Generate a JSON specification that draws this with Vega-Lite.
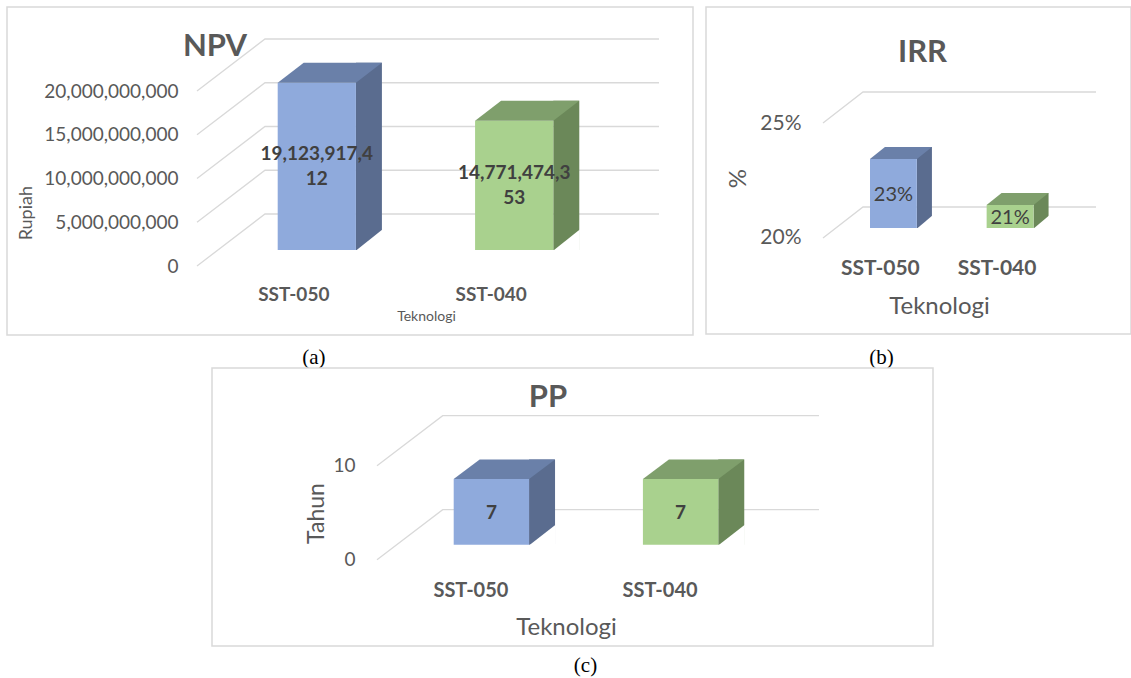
{
  "$schema": "https://vega.github.io/schema/vega-lite/v6.json",
  "padding": {"left": 6, "top": 6, "right": 0, "bottom": 0},
  "background": "white",
  "config": {"font": "Lato", "axis": {"labelColor": "#595959", "titleColor": "#595959"}},
  "spacing": -14,
  "vconcat": [
    {
      "hconcat": [
        {
          "width": 686, "height": 328,
          "view": {"stroke": "#d9d9d9", "strokeWidth": 1.5, "fill": "white"},
          "title": {"text": "NPV", "anchor": "middle", "frame": "group", "dx": -135, "offset": -80, "baseline": "alphabetic", "font": "Lato", "fontSize": 31, "fontWeight": "bold", "color": "#595959"},
          "data": {"values": [{"Teknologi": "SST-050", "NPV": 19123917412}, {"Teknologi": "SST-040", "NPV": 14771474353}]},
          "resolve": {"scale": {"y": "independent"}, "axis": {"x": "independent", "y": "independent"}},
          "layer": [
            {
              "data": {"values": [{"Rupiah": 0}, {"Rupiah": 5000000000}, {"Rupiah": 10000000000}, {"Rupiah": 15000000000}, {"Rupiah": 20000000000}]},
              "mark": {"type": "point", "shape": "M -153 16 L -85 -36 L 309 -36", "size": 4, "filled": false, "stroke": "#d9d9d9", "strokeWidth": 1.3, "opacity": 1},
              "encoding": {
                "y": {"field": "Rupiah", "type": "quantitative", "scale": {"domain": [-9714285714, 27771428571], "zero": false, "nice": false},
                  "axis": {"orient": "left", "offset": -171, "values": [0, 5000000000, 10000000000, 15000000000, 20000000000], "format": ",.0f", "labelOffset": 16, "labelPadding": 0, "ticks": false, "tickSize": 0, "domain": false, "grid": false, "labelFont": "Lato", "labelFontSize": 19, "labelLimit": 300, "title": "Rupiah", "titleFont": "Lato", "titleFontWeight": "normal", "titleFontSize": 18, "titleX": -152, "titleY": 205.7, "titleAngle": -90, "titleAlign": "center", "titleBaseline": "middle"}}
              }
            },
            {
              "mark": {"type": "bar", "width": 26, "xOffset": 52.1, "yOffset": -20},
              "encoding": {
                "x": {"field": "Teknologi", "type": "nominal", "scale": {"domain": ["SST-050", "SST-040"], "range": [270.7, 546.3], "paddingInner": 0.6037, "paddingOuter": 0}, "axis": null},
                "y": {"field": "NPV", "type": "quantitative", "scale": {"domain": [-9714285714, 27771428571], "zero": false, "nice": false}, "axis": null},
                "y2": {"datum": 0},
                "fill": {"condition": {"test": "datum.Teknologi === 'SST-050'", "value": "#5A6C8F"}, "value": "#6B8859"}
              }
            },
            {
              "mark": {"type": "bar"},
              "encoding": {
                "x": {"field": "Teknologi", "type": "nominal", "scale": {"domain": ["SST-050", "SST-040"], "range": [270.7, 546.3], "paddingInner": 0.6037, "paddingOuter": 0},
                  "axis": {"orient": "bottom", "offset": -41, "labelOffset": -23, "labelBaseline": "middle", "labelPadding": 0, "ticks": false, "tickSize": 0, "domain": false, "grid": false, "labelAngle": 0, "labelFont": "Lato", "labelFontWeight": "bold", "labelFontSize": 19, "title": "Teknologi", "titleFont": "Lato", "titleFontWeight": "normal", "titleFontSize": 14, "titleX": 419, "titleY": 22, "titleAlign": "center", "titleBaseline": "middle"}},
                "y": {"field": "NPV", "type": "quantitative", "scale": {"domain": [-9714285714, 27771428571], "zero": false, "nice": false}, "axis": null},
                "y2": {"datum": 0},
                "fill": {"condition": {"test": "datum.Teknologi === 'SST-050'", "value": "#8FAADC"}, "value": "#A9D18E"}
              }
            },
            {
              "mark": {"type": "point", "shape": "M -39.1 0 L 39.1 0 L 65.1 -20 L -13.1 -20 Z", "size": 4, "filled": true, "opacity": 1, "strokeWidth": 0},
              "encoding": {
                "x": {"field": "Teknologi", "type": "nominal", "scale": {"domain": ["SST-050", "SST-040"], "range": [270.7, 546.3], "paddingInner": 0.6037, "paddingOuter": 0}, "axis": null},
                "y": {"field": "NPV", "type": "quantitative", "scale": {"domain": [-9714285714, 27771428571], "zero": false, "nice": false}, "axis": null},
                "fill": {"condition": {"test": "datum.Teknologi === 'SST-050'", "value": "#6A80A9"}, "value": "#7F9F6C"}
              }
            },
            {
              "mark": {"type": "point", "shape": "M 38.6 1 L 65.6 1 L 65.6 -20.5 Z", "size": 4, "filled": true, "opacity": 1, "strokeWidth": 0, "fill": "white"},
              "encoding": {
                "x": {"field": "Teknologi", "type": "nominal", "scale": {"domain": ["SST-050", "SST-040"], "range": [270.7, 546.3], "paddingInner": 0.6037, "paddingOuter": 0}, "axis": null},
                "y": {"datum": 0, "type": "quantitative", "scale": {"domain": [-9714285714, 27771428571], "zero": false, "nice": false}, "axis": null}
              }
            },
            {
              "mark": {"type": "text", "limit": 117, "ellipsis": "\u200b", "dy": -12, "baseline": "middle", "align": "center", "font": "Lato", "fontWeight": "bold", "fontSize": 19, "color": "#404040"},
              "encoding": {
                "x": {"field": "Teknologi", "type": "nominal", "scale": {"domain": ["SST-050", "SST-040"], "range": [270.7, 546.3], "paddingInner": 0.6037, "paddingOuter": 0},
                  "axis": {"orient": "bottom", "offset": 0, "labels": false, "ticks": false, "domain": false, "grid": false, "title": "(a)", "titleFont": "Liberation Serif", "titleFontWeight": "normal", "titleFontSize": 21, "titleColor": "#000000", "titleX": 306.4, "titleY": 22, "titleAlign": "center", "titleBaseline": "middle"}},
                "y": {"field": "NPV", "type": "quantitative", "scale": {"domain": [-19428571429, 55542857143], "zero": false, "nice": false}, "axis": null},
                "text": {"field": "NPV", "type": "quantitative", "format": ","}
              }
            },
            {
              "mark": {"type": "text", "limit": 27, "dir": "rtl", "ellipsis": "\u200b", "dy": 13, "baseline": "middle", "align": "center", "font": "Lato", "fontWeight": "bold", "fontSize": 19, "color": "#404040"},
              "encoding": {
                "x": {"field": "Teknologi", "type": "nominal", "scale": {"domain": ["SST-050", "SST-040"], "range": [270.7, 546.3], "paddingInner": 0.6037, "paddingOuter": 0}, "axis": null},
                "y": {"field": "NPV", "type": "quantitative", "scale": {"domain": [-19428571429, 55542857143], "zero": false, "nice": false}, "axis": null},
                "text": {"field": "NPV", "type": "quantitative", "format": ","}
              }
            }
          ]
        },
        {
          "width": 425, "height": 327,
          "view": {"stroke": "#d9d9d9", "strokeWidth": 1.5, "fill": "white"},
          "title": {"text": "IRR", "anchor": "middle", "frame": "group", "dx": 4, "offset": -85.7, "baseline": "alphabetic", "font": "Lato", "fontSize": 31, "fontWeight": "bold", "color": "#595959"},
          "data": {"values": [{"Teknologi": "SST-050", "IRR": 0.23}, {"Teknologi": "SST-040", "IRR": 0.21}]},
          "resolve": {"scale": {"y": "independent"}, "axis": {"x": "independent", "y": "independent"}},
          "layer": [
            {
              "data": {"values": [{"Persen": 0.2}, {"Persen": 0.25}]},
              "mark": {"type": "point", "shape": "M -95.5 10 L -55.5 -21 L 177.5 -21", "size": 4, "filled": false, "stroke": "#d9d9d9", "strokeWidth": 1.3, "opacity": 1},
              "encoding": {
                "y": {"field": "Persen", "type": "quantitative", "scale": {"domain": [0.153913, 0.296087], "zero": false, "nice": false},
                  "axis": {"orient": "left", "offset": -95, "values": [0.2, 0.25], "format": ".0%", "labelOffset": 10, "labelPadding": 0, "ticks": false, "tickSize": 0, "domain": false, "grid": false, "labelFont": "Lato", "labelFontSize": 21, "title": "%", "titleFont": "Lato", "titleFontWeight": "normal", "titleFontSize": 24, "titleX": -63, "titleY": 171, "titleAngle": -90, "titleAlign": "center", "titleBaseline": "middle"}}
              }
            },
            {
              "mark": {"type": "bar", "width": 15, "xOffset": 31, "yOffset": -12},
              "encoding": {
                "x": {"field": "Teknologi", "type": "nominal", "scale": {"domain": ["SST-050", "SST-040"], "range": [164, 327.5], "paddingInner": 0.5983, "paddingOuter": 0}, "axis": null},
                "y": {"field": "IRR", "type": "quantitative", "scale": {"domain": [0.153913, 0.296087], "zero": false, "nice": false}, "axis": null},
                "y2": {"datum": 0.2},
                "fill": {"condition": {"test": "datum.Teknologi === 'SST-050'", "value": "#5A6C8F"}, "value": "#6B8859"}
              }
            },
            {
              "mark": {"type": "bar"},
              "encoding": {
                "x": {"field": "Teknologi", "type": "nominal", "scale": {"domain": ["SST-050", "SST-040"], "range": [164, 327.5], "paddingInner": 0.5983, "paddingOuter": 0},
                  "axis": {"orient": "bottom", "offset": -66, "labelOffset": -13, "labelBaseline": "middle", "labelPadding": 0, "ticks": false, "tickSize": 0, "domain": false, "grid": false, "labelAngle": 0, "labelFont": "Lato", "labelFontWeight": "bold", "labelFontSize": 21, "title": "Teknologi", "titleFont": "Lato", "titleFontWeight": "normal", "titleFontSize": 24, "titleX": 233, "titleY": 38, "titleAlign": "center", "titleBaseline": "middle"}},
                "y": {"field": "IRR", "type": "quantitative", "scale": {"domain": [0.153913, 0.296087], "zero": false, "nice": false}, "axis": null},
                "y2": {"datum": 0.2},
                "fill": {"condition": {"test": "datum.Teknologi === 'SST-050'", "value": "#8FAADC"}, "value": "#A9D18E"}
              }
            },
            {
              "mark": {"type": "point", "shape": "M -23.5 0 L 23.5 0 L 38.5 -12 L -8.5 -12 Z", "size": 4, "filled": true, "opacity": 1, "strokeWidth": 0},
              "encoding": {
                "x": {"field": "Teknologi", "type": "nominal", "scale": {"domain": ["SST-050", "SST-040"], "range": [164, 327.5], "paddingInner": 0.5983, "paddingOuter": 0}, "axis": null},
                "y": {"field": "IRR", "type": "quantitative", "scale": {"domain": [0.153913, 0.296087], "zero": false, "nice": false}, "axis": null},
                "fill": {"condition": {"test": "datum.Teknologi === 'SST-050'", "value": "#6A80A9"}, "value": "#7F9F6C"}
              }
            },
            {
              "mark": {"type": "point", "shape": "M 23 1 L 39 1 L 39 -12.5 Z", "size": 4, "filled": true, "opacity": 1, "strokeWidth": 0, "fill": "white"},
              "encoding": {
                "x": {"field": "Teknologi", "type": "nominal", "scale": {"domain": ["SST-050", "SST-040"], "range": [164, 327.5], "paddingInner": 0.5983, "paddingOuter": 0}, "axis": null},
                "y": {"datum": 0.2, "type": "quantitative", "scale": {"domain": [0.153913, 0.296087], "zero": false, "nice": false}, "axis": null}
              }
            },
            {
              "mark": {"type": "text", "dy": 2, "baseline": "middle", "align": "center", "font": "Lato", "fontWeight": "normal", "fontSize": 20, "color": "#404040"},
              "encoding": {
                "x": {"field": "Teknologi", "type": "nominal", "scale": {"domain": ["SST-050", "SST-040"], "range": [164, 327.5], "paddingInner": 0.5983, "paddingOuter": 0},
                  "axis": {"orient": "bottom", "offset": 0, "labels": false, "ticks": false, "domain": false, "grid": false, "title": "(b)", "titleFont": "Liberation Serif", "titleFontWeight": "normal", "titleFontSize": 21, "titleColor": "#000000", "titleX": 175, "titleY": 23, "titleAlign": "center", "titleBaseline": "middle"}},
                "y": {"field": "IRR", "type": "quantitative", "scale": {"domain": [0.107826, 0.392174], "zero": false, "nice": false}, "axis": null},
                "text": {"field": "IRR", "type": "quantitative", "format": ".0%"}
              }
            }
          ]
        }
      ],
      "spacing": 11
    },
    {
      "hconcat": [
        {
          "width": 204, "height": 1,
          "view": {"stroke": null},
          "data": {"values": []},
          "mark": {"type": "point", "opacity": 0},
          "encoding": {}
        },
        {
          "width": 721, "height": 278,
          "view": {"stroke": "#d9d9d9", "strokeWidth": 1.5, "fill": "white"},
          "title": {"text": "PP", "anchor": "middle", "frame": "group", "dx": -24.5, "offset": -70.3, "baseline": "alphabetic", "font": "Lato", "fontSize": 31, "fontWeight": "bold", "color": "#595959"},
          "data": {"values": [{"Teknologi": "SST-050", "PP": 7}, {"Teknologi": "SST-040", "PP": 7}]},
          "resolve": {"scale": {"y": "independent"}, "axis": {"x": "independent", "y": "independent"}},
          "layer": [
            {
              "data": {"values": [{"Tahun": 0}, {"Tahun": 10}]},
              "mark": {"type": "point", "shape": "M -195.5 15 L -129.8 -35 L 246.5 -35", "size": 4, "filled": false, "stroke": "#d9d9d9", "strokeWidth": 1.3, "opacity": 1},
              "encoding": {
                "y": {"field": "Tahun", "type": "quantitative", "scale": {"domain": [-10.777, 18.798], "zero": false, "nice": false},
                  "axis": {"orient": "left", "offset": -143, "values": [0, 10], "format": "d", "labelOffset": 15, "labelPadding": 0, "ticks": false, "tickSize": 0, "domain": false, "grid": false, "labelFont": "Lato", "labelFontSize": 19, "title": "Tahun", "titleFont": "Lato", "titleFontWeight": "normal", "titleFontSize": 23, "titleX": -39, "titleY": 145, "titleAngle": -90, "titleAlign": "center", "titleBaseline": "middle"}}
              }
            },
            {
              "mark": {"type": "bar", "width": 26, "xOffset": 50.65, "yOffset": -19.5},
              "encoding": {
                "x": {"field": "Teknologi", "type": "nominal", "scale": {"domain": ["SST-050", "SST-040"], "range": [241.7, 506.3], "paddingInner": 0.6016, "paddingOuter": 0}, "axis": null},
                "y": {"field": "PP", "type": "quantitative", "scale": {"domain": [-10.777, 18.798], "zero": false, "nice": false}, "axis": null},
                "y2": {"datum": 0},
                "fill": {"condition": {"test": "datum.Teknologi === 'SST-050'", "value": "#5A6C8F"}, "value": "#6B8859"}
              }
            },
            {
              "mark": {"type": "bar"},
              "encoding": {
                "x": {"field": "Teknologi", "type": "nominal", "scale": {"domain": ["SST-050", "SST-040"], "range": [241.7, 506.3], "paddingInner": 0.6016, "paddingOuter": 0},
                  "axis": {"orient": "bottom", "offset": -55.3, "labelOffset": -20.5, "labelBaseline": "middle", "labelPadding": 0, "ticks": false, "tickSize": 0, "domain": false, "grid": false, "labelAngle": 0, "labelFont": "Lato", "labelFontWeight": "bold", "labelFontSize": 20, "title": "Teknologi", "titleFont": "Lato", "titleFontWeight": "normal", "titleFontSize": 24, "titleX": 354, "titleY": 36.3, "titleAlign": "center", "titleBaseline": "middle"}},
                "y": {"field": "PP", "type": "quantitative", "scale": {"domain": [-10.777, 18.798], "zero": false, "nice": false}, "axis": null},
                "y2": {"datum": 0},
                "fill": {"condition": {"test": "datum.Teknologi === 'SST-050'", "value": "#8FAADC"}, "value": "#A9D18E"}
              }
            },
            {
              "mark": {"type": "point", "shape": "M -37.7 0 L 37.7 0 L 63.7 -19.5 L -11.7 -19.5 Z", "size": 4, "filled": true, "opacity": 1, "strokeWidth": 0},
              "encoding": {
                "x": {"field": "Teknologi", "type": "nominal", "scale": {"domain": ["SST-050", "SST-040"], "range": [241.7, 506.3], "paddingInner": 0.6016, "paddingOuter": 0}, "axis": null},
                "y": {"field": "PP", "type": "quantitative", "scale": {"domain": [-10.777, 18.798], "zero": false, "nice": false}, "axis": null},
                "fill": {"condition": {"test": "datum.Teknologi === 'SST-050'", "value": "#6A80A9"}, "value": "#7F9F6C"}
              }
            },
            {
              "mark": {"type": "point", "shape": "M 37.2 1 L 64.2 1 L 64.2 -20 Z", "size": 4, "filled": true, "opacity": 1, "strokeWidth": 0, "fill": "white"},
              "encoding": {
                "x": {"field": "Teknologi", "type": "nominal", "scale": {"domain": ["SST-050", "SST-040"], "range": [241.7, 506.3], "paddingInner": 0.6016, "paddingOuter": 0}, "axis": null},
                "y": {"datum": 0, "type": "quantitative", "scale": {"domain": [-10.777, 18.798], "zero": false, "nice": false}, "axis": null}
              }
            },
            {
              "mark": {"type": "text", "dy": 1.5, "baseline": "middle", "align": "center", "font": "Lato", "fontWeight": "bold", "fontSize": 19, "color": "#404040"},
              "encoding": {
                "x": {"field": "Teknologi", "type": "nominal", "scale": {"domain": ["SST-050", "SST-040"], "range": [241.7, 506.3], "paddingInner": 0.6016, "paddingOuter": 0},
                  "axis": {"orient": "bottom", "offset": 0, "labels": false, "ticks": false, "domain": false, "grid": false, "title": "(c)", "titleFont": "Liberation Serif", "titleFontWeight": "normal", "titleFontSize": 21, "titleColor": "#000000", "titleX": 373, "titleY": 19.7, "titleAlign": "center", "titleBaseline": "middle"}},
                "y": {"field": "PP", "type": "quantitative", "scale": {"domain": [-21.554, 37.596], "zero": false, "nice": false}, "axis": null},
                "text": {"field": "PP", "type": "quantitative", "format": "d"}
              }
            }
          ]
        }
      ],
      "spacing": 0
    }
  ]
}
